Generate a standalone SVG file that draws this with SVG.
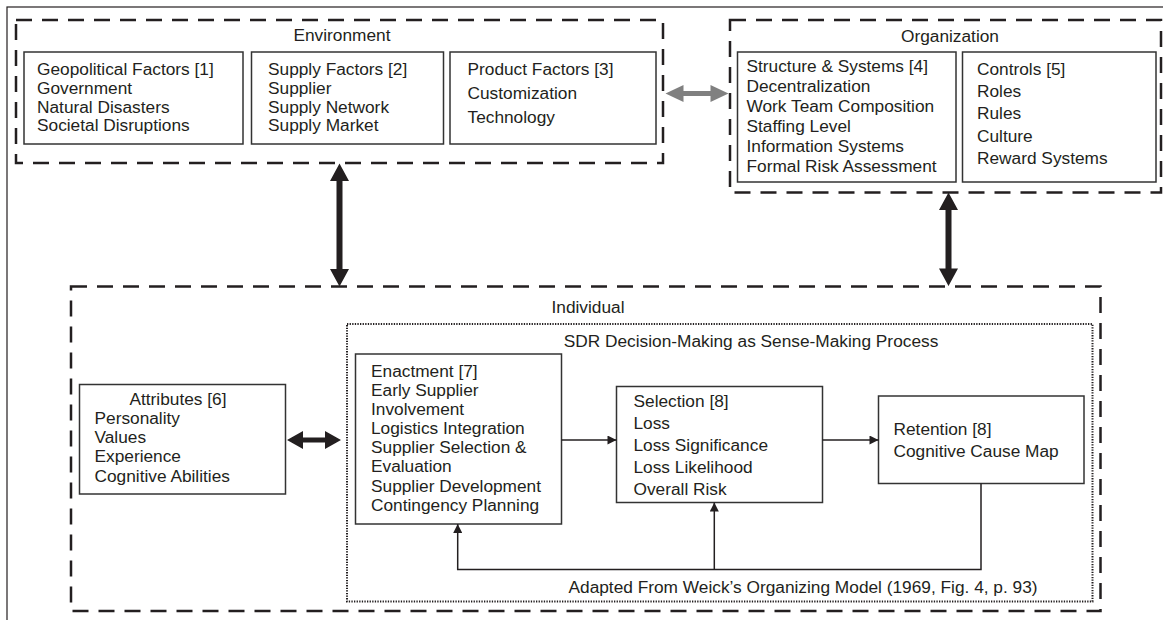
<svg xmlns="http://www.w3.org/2000/svg" width="1163" height="620" viewBox="0 0 1163 620">
<style>
text{font-family:"Liberation Sans",Arial,sans-serif;font-size:17.3px;fill:#231f20}
.c{text-anchor:middle}
.box{fill:#fff;stroke:#333;stroke-width:1.5}
.dash{fill:none;stroke:#231f20;stroke-width:2.5;stroke-dasharray:16 10}
.dot{fill:none;stroke:#231f20;stroke-width:2;stroke-dasharray:1.3 1.3}
.ln{fill:none;stroke:#231f20;stroke-width:1.5}
</style>
<defs>
<marker id="ah" viewBox="0 0 10 10" refX="10" refY="5" markerWidth="10" markerHeight="9" markerUnits="userSpaceOnUse" orient="auto">
<path d="M0,0L10,5L0,10z" fill="#231f20"/>
</marker>
</defs>
<rect width="1163" height="620" fill="#fff"/>
<rect x="7" y="7" width="1200" height="700" fill="none" stroke="#231f20" stroke-width="1.2"/>

<g id="environment">
<rect class="dash" x="16" y="20" width="647" height="143"/>
<text class="c" x="342" y="41">Environment</text>
</g>
<g id="geopolitical">
<rect class="box" x="24" y="52" width="219" height="92"/>
<text x="37" y="75">Geopolitical Factors [1]</text>
<text x="37" y="94">Government</text>
<text x="37" y="112.5">Natural Disasters</text>
<text x="37" y="131">Societal Disruptions</text>
</g>
<g id="supply">
<rect class="box" x="251.5" y="52" width="192" height="92"/>
<text x="268" y="75">Supply Factors [2]</text>
<text x="268" y="94">Supplier</text>
<text x="268" y="112.5">Supply Network</text>
<text x="268" y="131">Supply Market</text>
</g>
<g id="product">
<rect class="box" x="450" y="52" width="206" height="92"/>
<text x="467.5" y="75">Product Factors [3]</text>
<text x="467.5" y="99">Customization</text>
<text x="467.5" y="123">Technology</text>
</g>

<g id="organization">
<rect class="dash" x="730" y="20" width="431" height="172.5"/>
<text class="c" x="950" y="41.5">Organization</text>
</g>
<g id="structure">
<rect class="box" x="737.5" y="52" width="218.5" height="130"/>
<text x="746.5" y="72">Structure &amp; Systems [4]</text>
<text x="746.5" y="92">Decentralization</text>
<text x="746.5" y="111.7">Work Team Composition</text>
<text x="746.5" y="131.7">Staffing Level</text>
<text x="746.5" y="151.7">Information Systems</text>
<text x="746.5" y="172">Formal Risk Assessment</text>
</g>
<g id="controls">
<rect class="box" x="962.5" y="52" width="193.5" height="130"/>
<text x="977" y="75">Controls [5]</text>
<text x="977" y="97">Roles</text>
<text x="977" y="119">Rules</text>
<text x="977" y="141.5">Culture</text>
<text x="977" y="164">Reward Systems</text>
</g>

<g id="individual">
<rect class="dash" x="71" y="286.5" width="1029.5" height="324.5"/>
<text class="c" x="588" y="313">Individual</text>
</g>
<g id="sdr">
<rect class="dot" x="347" y="324" width="745.5" height="277.5"/>
<text class="c" x="751" y="347">SDR Decision-Making as Sense-Making Process</text>
<text x="568.5" y="592.5">Adapted From Weick’s Organizing Model (1969, Fig. 4, p. 93)</text>
</g>
<g id="attributes">
<rect class="box" x="79.5" y="384.5" width="206" height="109.5"/>
<text class="c" x="178" y="405">Attributes [6]</text>
<text x="94.5" y="424">Personality</text>
<text x="94.5" y="443.3">Values</text>
<text x="94.5" y="462.3">Experience</text>
<text x="94.5" y="481.7">Cognitive Abilities</text>
</g>
<g id="enactment">
<rect class="box" x="355.5" y="354" width="206" height="170"/>
<text x="371" y="376.7">Enactment [7]</text>
<text x="371" y="396">Early Supplier</text>
<text x="371" y="414.7">Involvement</text>
<text x="371" y="434">Logistics Integration</text>
<text x="371" y="453.3">Supplier Selection &amp;</text>
<text x="371" y="472.3">Evaluation</text>
<text x="371" y="491.7">Supplier Development</text>
<text x="371" y="510.7">Contingency Planning</text>
</g>
<g id="selection">
<rect class="box" x="616.5" y="386.5" width="206" height="116"/>
<text x="633.5" y="406.7">Selection [8]</text>
<text x="633.5" y="428.5">Loss</text>
<text x="633.5" y="450.7">Loss Significance</text>
<text x="633.5" y="473">Loss Likelihood</text>
<text x="633.5" y="495">Overall Risk</text>
</g>
<g id="retention">
<rect class="box" x="878.5" y="396" width="205.5" height="87.5"/>
<text x="893.5" y="435">Retention [8]</text>
<text x="893.5" y="456.7">Cognitive Cause Map</text>
</g>

<g id="connectors">
<polygon fill="#808080" points="665.5,93.5 683.5,85 683.5,91 710.5,91 710.5,85 728.5,93.5 710.5,102 710.5,96 683.5,96 683.5,102"/>
<polygon fill="#231f20" points="339.5,163.5 349,181 342.5,181 342.5,269 349,269 339.5,286.5 330,269 336.5,269 336.5,181 330,181"/>
<polygon fill="#231f20" points="948.5,192.5 958,210 951.5,210 951.5,268.5 958,268.5 948.5,286 939,268.5 945.5,268.5 945.5,210 939,210"/>
<polygon fill="#231f20" points="287,440 303,431 303,437.5 325,437.5 325,431 341,440 325,449 325,442.5 303,442.5 303,449"/>
<line class="ln" x1="561.5" y1="440" x2="616.5" y2="440" marker-end="url(#ah)"/>
<line class="ln" x1="822.5" y1="440" x2="878.5" y2="440" marker-end="url(#ah)"/>
<polyline class="ln" points="981,483.5 981,569.5 457.7,569.5 457.7,524" marker-end="url(#ah)"/>
<line class="ln" x1="714.3" y1="569.5" x2="714.3" y2="502.5" marker-end="url(#ah)"/>
</g>
</svg>
